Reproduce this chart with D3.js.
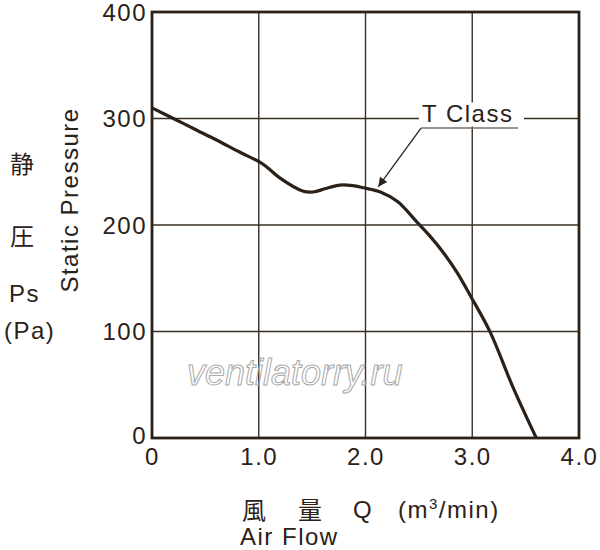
<!DOCTYPE html>
<html lang="en">
<head>
<meta charset="UTF-8">
<title>T Class</title>
<script src="https://d3js.org/d3.v7.min.js"></script>
<style>
    body { margin: 0; background: #fff; font-family: "Liberation Sans", Arial, sans-serif; }
    .tick text { font-size: 24px; fill: #2b2118; letter-spacing: 1.5px; }
    .lbl { font-size: 24px; fill: #2b2118; letter-spacing: 1.5px; }
    .cjk { font-family: "Noto Sans CJK JP", sans-serif; font-size: 24px; fill: #2b2118; }
</style>
</head>
<body>
<div id="chart"></div>
<script>
// air flow (m3/min) and static pressure (Pa)
const flow = [0, 0.2, 0.42, 0.6, 0.82, 1.01, 1.08, 1.2, 1.41, 1.51, 1.62, 1.76, 1.88, 1.98, 2.14, 2.3, 2.48, 2.6, 2.73, 2.86, 2.98, 3.17, 3.38, 3.6];
const pressure = [310, 300, 289, 280, 268.5, 259, 254, 244, 232, 231, 234, 237.5, 237, 235, 231, 222, 203, 190, 174, 155, 134, 99, 48, 0];
const xTicks = [0, 1, 2, 3, 4];
const xTickLabels = ["0", "1.0", "2.0", "3.0", "4.0"];
const yTicks = [0, 100, 200, 300, 400];

const W = 600, H = 550;
const margin = { top: 12, right: 21, bottom: 112, left: 152 };
const ink = "#2b2118";

const svg = d3.select("#chart").append("svg")
    .attr("width", W).attr("height", H);

const x = d3.scaleLinear().domain([0, 4]).range([margin.left, W - margin.right]);
const y = d3.scaleLinear().domain([0, 400]).range([H - margin.bottom, margin.top]);

// grid
svg.append("g")
    .selectAll("line").data(xTicks.slice(1, -1)).join("line")
    .attr("x1", d => x(d)).attr("x2", d => x(d))
    .attr("y1", y(0)).attr("y2", y(400))
    .attr("stroke", "#3a3027").attr("stroke-width", 1.4);
svg.append("g")
    .selectAll("line").data(yTicks.slice(1, -1)).join("line")
    .attr("x1", x(0)).attr("x2", x(4))
    .attr("y1", d => y(d)).attr("y2", d => y(d))
    .attr("stroke", "#3a3027").attr("stroke-width", 1.4);

// watermark (outlined)
svg.append("text")
    .attr("x", 187).attr("y", 385)
    .attr("font-size", 36).attr("font-style", "italic")
    .attr("fill", "none").attr("stroke", "#a8a8a8").attr("stroke-width", 1)
    .text("ventilatorry.ru");

// frame
svg.append("rect")
    .attr("x", x(0)).attr("y", y(400))
    .attr("width", x(4) - x(0)).attr("height", y(0) - y(400))
    .attr("fill", "none").attr("stroke", ink).attr("stroke-width", 2.8);

// axes (labels only)
const xAxis = svg.append("g")
    .attr("transform", `translate(0,${y(0)})`)
    .call(d3.axisBottom(x).tickValues(xTicks).tickFormat((d, i) => xTickLabels[i]).tickSize(0).tickPadding(10));
xAxis.select(".domain").remove();

const yAxis = svg.append("g")
    .attr("transform", `translate(${x(0)},0)`)
    .call(d3.axisLeft(y).tickValues(yTicks).tickSize(0).tickPadding(5));
yAxis.select(".domain").remove();
yAxis.selectAll("text").attr("dy", "0.35em");
yAxis.selectAll(".tick").filter(d => d === 0).select("text").attr("dy", "0.22em");

// curve
const pts = flow.map((f, i) => [f, pressure[i]]);
svg.append("path")
    .datum(pts)
    .attr("fill", "none")
    .attr("stroke", ink)
    .attr("stroke-width", 3.2)
    .attr("stroke-linejoin", "round")
    .attr("d", d3.line().x(d => x(d[0])).y(d => y(d[1])).curve(d3.curveCatmullRom.alpha(0.5)));

// T Class label
svg.append("rect")
    .attr("x", 419).attr("y", y(300) - 16)
    .attr("width", 105).attr("height", 24)
    .attr("fill", "#fff");
svg.append("text").attr("class", "lbl")
    .attr("x", 422).attr("y", 122)
    .text("T Class");
svg.append("line")
    .attr("x1", x(2.52)).attr("x2", 518)
    .attr("y1", y(291)).attr("y2", y(291))
    .attr("stroke", "#7a7068").attr("stroke-width", 1.5);

// arrow
svg.append("defs").append("marker")
    .attr("id", "arr").attr("viewBox", "0 0 10 10")
    .attr("refX", 10).attr("refY", 5)
    .attr("markerWidth", 12).attr("markerHeight", 9)
    .attr("markerUnits", "userSpaceOnUse")
    .attr("orient", "auto")
    .append("path").attr("d", "M0,0L10,5L0,10z").attr("fill", ink);
svg.append("line")
    .attr("x1", x(2.52)).attr("y1", y(291))
    .attr("x2", x(2.12)).attr("y2", y(236))
    .attr("stroke", ink).attr("stroke-width", 1.3)
    .attr("marker-end", "url(#arr)");

// y titles
svg.append("text").attr("class", "lbl")
    .attr("transform", "translate(78,200) rotate(-90)")
    .attr("text-anchor", "middle")
    .text("Static Pressure");
svg.append("text").attr("class", "cjk")
    .attr("x", 22).attr("y", 173).attr("text-anchor", "middle").text("静");
svg.append("text").attr("class", "cjk")
    .attr("x", 22).attr("y", 245).attr("text-anchor", "middle").text("圧");
svg.append("text").attr("class", "lbl")
    .attr("x", 9).attr("y", 302).text("Ps");
svg.append("text").attr("class", "lbl")
    .attr("x", 4).attr("y", 339).text("(Pa)");

// x titles
svg.append("text").attr("class", "cjk")
    .attr("x", 254).attr("y", 519).attr("text-anchor", "middle").text("風");
svg.append("text").attr("class", "cjk")
    .attr("x", 310).attr("y", 519).attr("text-anchor", "middle").text("量");
svg.append("text").attr("class", "lbl")
    .attr("x", 363).attr("y", 518).attr("text-anchor", "middle").text("Q");
const unit = svg.append("text").attr("class", "lbl")
    .attr("x", 398).attr("y", 518);
unit.append("tspan").text("(m");
unit.append("tspan").attr("font-size", 15).attr("dy", -9).text("3");
unit.append("tspan").attr("dy", 9).text("/min)");
svg.append("text").attr("class", "lbl")
    .attr("x", 240).attr("y", 545).text("Air Flow");
</script>
</body>
</html>
